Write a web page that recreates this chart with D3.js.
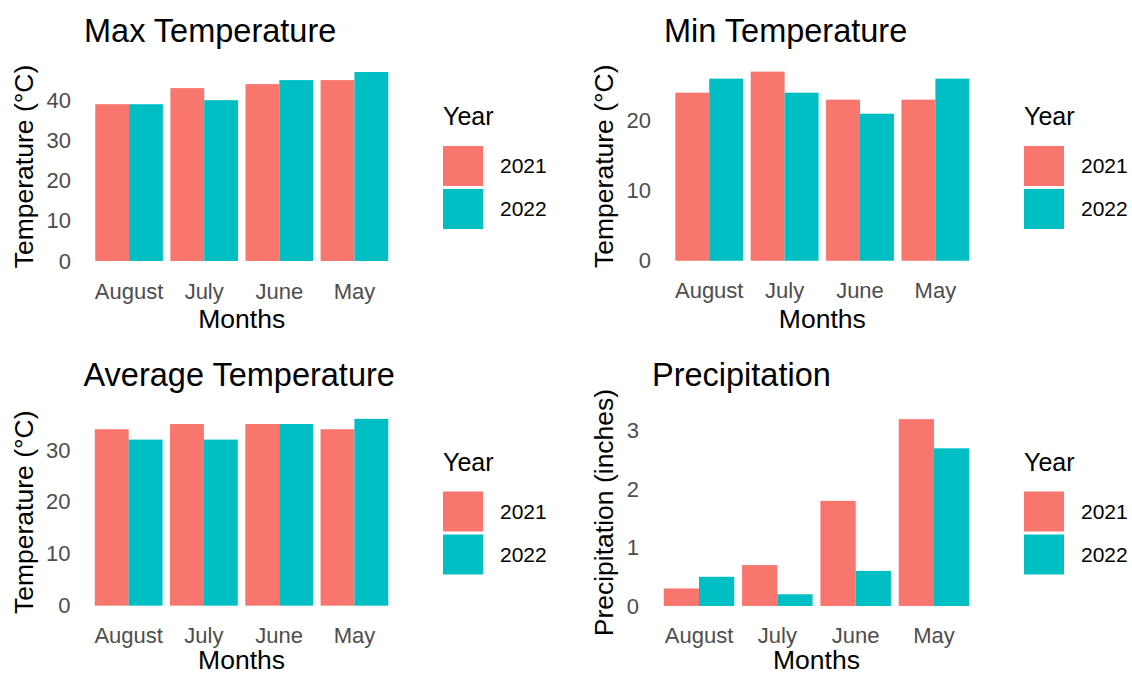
<!DOCTYPE html>
<html>
<head>
<meta charset="utf-8">
<script src="https://cdn.jsdelivr.net/npm/d3@7"></script>
<style>
  body { margin: 0; background: #fff; }
  svg { display: block; font-family: "Liberation Sans", Arial, sans-serif; }
</style>
</head>
<body>
<div id="chart"></div>
<script>
// data
const months = ["August", "July", "June", "May"];
const years = ["2021", "2022"];
const yearColors = ["#F8766D", "#00BFC4"];

const maxTemp2021 = [39, 43, 44, 45];
const maxTemp2022 = [39, 40, 45, 47];
const minTemp2021 = [24, 27, 23, 23];
const minTemp2022 = [26, 24, 21, 26];
const avgTemp2021 = [34, 35, 35, 34];
const avgTemp2022 = [32, 32, 35, 36];
const precip2021 = [0.3, 0.7, 1.8, 3.2];
const precip2022 = [0.5, 0.2, 0.6, 2.7];

const maxTicks = [0, 10, 20, 30, 40];
const minTicks = [0, 10, 20];
const avgTicks = [0, 10, 20, 30];
const precipTicks = [0, 1, 2, 3];

const width = 1132;
const height = 675;

const svg = d3.select('#chart')
              .append('svg')
              .attr('width', width)
              .attr('height', height);

// one entry per facet: values + where the panel sits
const panels = [
    { title: "Max Temperature", yTitle: "Temperature (°C)", series: [maxTemp2021, maxTemp2022], ticks: maxTicks,
      left: 84, right: 399.5, top: 62.6, bottom: 270.4, titleY: 42, xTitleY: 328, legendX: 443, legendY: 125 },
    { title: "Min Temperature", yTitle: "Temperature (°C)", series: [minTemp2021, minTemp2022], ticks: minTicks,
      left: 664, right: 980.6, top: 62.2, bottom: 270.2, titleY: 42, xTitleY: 328, legendX: 1024, legendY: 125 },
    { title: "Average Temperature", yTitle: "Temperature (°C)", series: [avgTemp2021, avgTemp2022], ticks: avgTicks,
      left: 83.5, right: 399.6, top: 409.5, bottom: 615, titleY: 386, xTitleY: 669, legendX: 443, legendY: 470.5 },
    { title: "Precipitation", yTitle: "Precipitation (inches)", series: [precip2021, precip2022], ticks: precipTicks,
      left: 652, right: 981, top: 409.8, bottom: 615.3, titleY: 386, xTitleY: 669, legendX: 1024, legendY: 470.5 }
];

panels.forEach(p => drawPanel(p));

function drawPanel(p) {
    const g = svg.append('g');

    const maxVal = d3.max(p.series, s => d3.max(s));

    // ggplot style: bars take 0.9 of the slot, 0.6 slot expansion at each end
    const x0 = d3.scaleBand()
                 .domain(months)
                 .range([p.left, p.right])
                 .paddingInner(0.1)
                 .paddingOuter(0.15);

    const x1 = d3.scaleBand()
                 .domain(years)
                 .range([0, x0.bandwidth()]);

    const y = d3.scaleLinear()
                .domain([-0.05 * maxVal, 1.05 * maxVal])
                .range([p.bottom, p.top]);

    const rows = months.map((m, i) => ({ month: m, values: years.map((yr, j) => ({ year: yr, idx: j, value: p.series[j][i] })) }));

    g.selectAll('.group')
     .data(rows)
     .enter()
     .append('g')
     .attr('transform', d => `translate(${x0(d.month)},0)`)
     .selectAll('rect')
     .data(d => d.values)
     .enter()
     .append('rect')
     .attr('x', d => x1(d.year))
     .attr('width', x1.bandwidth())
     .attr('y', d => y(d.value))
     .attr('height', d => y(0) - y(d.value))
     .attr('fill', d => yearColors[d.idx]);

    const yAxis = d3.axisLeft(y)
                    .tickValues(p.ticks)
                    .tickSize(0)
                    .tickPadding(13)
                    .tickFormat(d3.format("d"));

    const xAxis = d3.axisBottom(x0)
                    .tickSize(0)
                    .tickPadding(12.5);

    const ya = g.append('g')
                .attr('transform', `translate(${p.left},0)`)
                .call(yAxis);

    g.append('g')
     .attr('transform', `translate(0,${p.bottom})`)
     .call(xAxis);

    g.selectAll('.domain').remove();
    g.selectAll('.tick text')
     .attr('font-size', 22)
     .attr('font-family', '"Liberation Sans", Arial, sans-serif')
     .attr('fill', '#4D4D4D');

    // y title sits left of the widest tick label
    let labelW = 0;
    ya.selectAll('.tick text').each(function () {
        labelW = Math.max(labelW, this.getComputedTextLength());
    });
    const yTitleX = p.left - 13 - labelW - 13.5;

    g.append('text')
     .attr('transform', `translate(${yTitleX},${(p.top + p.bottom) / 2}) rotate(-90)`)
     .attr('text-anchor', 'middle')
     .attr('font-size', 26.5)
     .attr('fill', '#000')
     .text(p.yTitle);

    g.append('text')
     .attr('x', (p.left + p.right) / 2)
     .attr('y', p.xTitleY)
     .attr('text-anchor', 'middle')
     .attr('font-size', 26.5)
     .attr('fill', '#000')
     .text("Months");

    g.append('text')
     .attr('x', p.left)
     .attr('y', p.titleY)
     .attr('font-size', 32.5)
     .attr('fill', '#000')
     .text(p.title);

    // legend
    const lg = g.append('g')
                .attr('transform', `translate(${p.legendX},${p.legendY})`);

    lg.append('text')
      .attr('x', 0)
      .attr('y', 0)
      .attr('font-size', 25)
      .attr('fill', '#000')
      .text("Year");

    const items = lg.selectAll('.item')
                    .data(years)
                    .enter()
                    .append('g')
                    .attr('transform', (d, i) => `translate(0,${21 + i * 43})`);

    items.append('rect')
         .attr('width', 40)
         .attr('height', 40)
         .attr('fill', (d, i) => yearColors[i]);

    items.append('text')
         .attr('x', 57)
         .attr('y', 20)
         .attr('dy', '0.35em')
         .attr('font-size', 21)
         .attr('fill', '#000')
         .text(d => d);
}
</script>
</body>
</html>
